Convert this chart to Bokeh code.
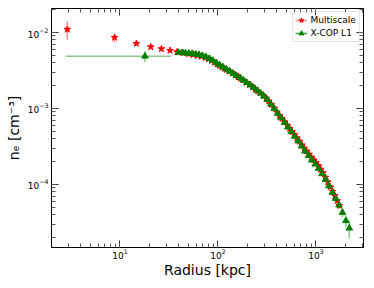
import math
from bokeh.plotting import figure
from bokeh.models import ColumnDataSource, LogAxis, LogTicker, Legend, LegendItem, Range1d, Label
from bokeh.embed import file_html
from bokeh.resources import INLINE

# ---- data: Multiscale (red stars) ----
ms_r = [2.9, 8.8, 14.7, 20.6, 26.5, 32.4, 38.3, 44.2, 50.1, 56, 62, 68, 74, 80, 86, 92, 98,
        104, 110, 116, 122, 130, 140, 150, 160, 170, 180, 195, 210, 225, 240, 255, 270, 290,
        310, 330, 350, 375, 400, 425, 450, 480, 510, 540, 570, 600, 640, 680, 720, 760, 800,
        850, 900, 950, 1000, 1060, 1120, 1180, 1250, 1320, 1400, 1480, 1560, 1650, 1740]
ms_ne = [1.10e-2, 8.59e-3, 7.17e-3, 6.47e-3, 6.09e-3, 5.80e-3, 5.55e-3, 5.39e-3, 5.24e-3,
         5.10e-3, 4.98e-3, 4.83e-3, 4.66e-3, 4.47e-3, 4.26e-3, 4.04e-3, 3.84e-3,
         3.66e-3, 3.50e-3, 3.37e-3, 3.24e-3, 3.09e-3, 2.91e-3, 2.76e-3, 2.61e-3, 2.48e-3,
         2.36e-3, 2.19e-3, 2.05e-3, 1.92e-3, 1.80e-3, 1.69e-3, 1.60e-3, 1.48e-3,
         1.36e-3, 1.25e-3, 1.13e-3, 1.01e-3, 8.95e-4, 8.10e-4, 7.40e-4, 6.65e-4, 6.00e-4,
         5.45e-4, 4.95e-4, 4.55e-4, 4.10e-4, 3.70e-4, 3.30e-4, 3.00e-4, 2.75e-4,
         2.50e-4, 2.28e-4, 2.10e-4, 1.94e-4, 1.76e-4, 1.58e-4, 1.42e-4, 1.24e-4, 1.08e-4,
         9.3e-5, 8.1e-5, 7.1e-5, 6.1e-5, 5.3e-5]
ms_err = [3.0e-3, 1.2e-3, 4.0e-4, 2.5e-4, 2.0e-4, 1.6e-4, 1.4e-4, 1.2e-4, 1.1e-4,
          1.0e-4, 9e-5, 9e-5, 8e-5, 8e-5, 7e-5, 7e-5, 6e-5,
          6e-5, 5e-5, 5e-5, 5e-5, 4e-5, 4e-5, 4e-5, 4e-5, 3e-5,
          3e-5, 3e-5, 3e-5, 3e-5, 2e-5, 2e-5, 2e-5, 2e-5,
          2e-5, 2e-5, 2e-5, 2e-5, 1.5e-5, 1.5e-5, 1.5e-5, 1.2e-5, 1.2e-5,
          1.0e-5, 1.0e-5, 1.0e-5, 9e-6, 8e-6, 7e-6, 7e-6, 6e-6,
          6e-6, 5e-6, 5e-6, 5e-6, 5e-6, 5e-6, 4e-6, 4e-6, 4e-6,
          4e-6, 4e-6, 4e-6, 4e-6, 4e-6]

# ---- data: X-COP L1 (green triangles) ----
xc_r = [18.0, 39.6, 42.9, 46.6, 50.5, 54.6, 59.2, 64.1, 69.5, 75.3, 81.7, 88.5, 95.7,
        103.8, 112.5, 121.9, 132.1, 143.2, 155.2, 167.9, 182.0, 197.2, 213.8, 231.7,
        251.2, 272.3, 294.4, 319.2, 345.9, 375.0, 406.4, 440.6, 477.5, 517.6, 559.8,
        606.7, 657.7, 712.9, 772.7, 837.5, 905.7, 981.7, 1064, 1153, 1250, 1355, 1469,
        1589, 1722, 1866, 2023, 2193]
xc_ne = [4.87e-3, 5.46e-3, 5.41e-3, 5.37e-3, 5.33e-3, 5.28e-3, 5.19e-3, 5.11e-3, 4.95e-3,
         4.79e-3, 4.55e-3, 4.29e-3, 4.00e-3, 3.74e-3, 3.51e-3, 3.29e-3, 3.09e-3, 2.89e-3,
         2.70e-3, 2.54e-3, 2.36e-3, 2.19e-3, 2.04e-3, 1.88e-3, 1.73e-3, 1.59e-3, 1.45e-3,
         1.31e-3, 1.14e-3, 9.95e-4, 8.60e-4, 7.52e-4, 6.56e-4, 5.68e-4, 4.94e-4, 4.30e-4,
         3.73e-4, 3.19e-4, 2.74e-4, 2.39e-4, 2.09e-4, 1.85e-4, 1.62e-4, 1.38e-4, 1.16e-4,
         9.54e-5, 7.85e-5, 6.55e-5, 5.35e-5, 4.27e-5, 3.33e-5, 2.66e-5]
xc_err = [8e-4, 2.0e-4, 1.5e-4, 1.3e-4, 1.2e-4, 1.1e-4, 1.0e-4, 9e-5, 8e-5, 8e-5, 7e-5,
          7e-5, 6e-5, 6e-5, 5e-5, 5e-5, 5e-5, 4e-5, 4e-5, 4e-5, 3e-5, 3e-5, 3e-5, 3e-5,
          3e-5, 3e-5, 3e-5, 3e-5, 3e-5, 2.5e-5, 2.5e-5, 2e-5, 2e-5, 2e-5, 1.5e-5, 1.5e-5,
          1.5e-5, 1.2e-5, 1.2e-5, 1.0e-5, 1.0e-5, 9e-6, 8e-6, 8e-6, 7e-6, 7e-6, 6e-6,
          6e-6, 6e-6, 6e-6, 6e-6, 7e-6]
xc_rerr_first = 15.2

series_labels = ["Multiscale", "X-COP L1"]

p = figure(width=367, height=283, x_axis_type="log", y_axis_type="log",
           x_range=Range1d(2.0, 3060), y_range=Range1d(1.48e-5, 0.0207),
           output_backend="svg", toolbar_location=None,
           min_border_left=51, min_border_right=4, min_border_top=8, min_border_bottom=36)
p.xgrid.visible = False
p.ygrid.visible = False
p.outline_line_color = "black"
p.outline_line_width = 1


def style(ax, labels=True):
    ax.ticker = LogTicker(num_minor_ticks=10)
    ax.major_tick_in = 7
    ax.major_tick_out = 0
    ax.minor_tick_in = 4
    ax.minor_tick_out = 0
    ax.axis_line_color = "black"
    ax.major_tick_line_color = "#333333"
    ax.minor_tick_line_color = "#555555"
    ax.major_label_text_font = "DejaVu Sans"
    ax.major_label_text_color = "black"
    if labels:
        ax.major_label_text_font_size = "9px"
        ax.major_label_standoff = 3
    else:
        ax.major_label_text_font_size = "1px"
        ax.major_label_text_alpha = 0
        ax.major_label_standoff = 0


style(p.xaxis[0])
style(p.yaxis[0])
p.xaxis[0].major_label_standoff = 1
p.xaxis[0].axis_label = "Radius [kpc]"
p.yaxis[0].axis_label = "nₑ [cm⁻³]"
for ax in (p.xaxis[0], p.yaxis[0]):
    ax.axis_label_text_font = "DejaVu Sans"
    ax.axis_label_text_font_size = "14px"
    ax.axis_label_text_font_style = "normal"
    ax.axis_label_text_color = "black"
p.xaxis[0].axis_label_standoff = 0
p.yaxis[0].axis_label_standoff = 3

top = LogAxis()
style(top, labels=False)
p.add_layout(top, "above")
right = LogAxis()
style(right, labels=False)
p.add_layout(right, "right")

ms_src = ColumnDataSource(dict(r=ms_r, ne=ms_ne,
                               lo=[v - e for v, e in zip(ms_ne, ms_err)],
                               hi=[v + e for v, e in zip(ms_ne, ms_err)]))
xc_src = ColumnDataSource(dict(r=xc_r, ne=xc_ne,
                               lo=[v - e for v, e in zip(xc_ne, xc_err)],
                               hi=[v + e for v, e in zip(xc_ne, xc_err)]))

p.segment(x0="r", y0="lo", x1="r", y1="hi", source=ms_src,
          line_color="red", line_alpha=0.45, line_width=1.5)
ms_pts = p.scatter("r", "ne", source=ms_src, marker="star", size=7,
                   fill_color="red", line_color="red")

p.segment(x0=[xc_r[0] - xc_rerr_first], y0=[xc_ne[0]], x1=[xc_r[0] + xc_rerr_first], y1=[xc_ne[0]],
          line_color="green", line_alpha=0.45, line_width=1.5)
p.segment(x0="r", y0="lo", x1="r", y1="hi", source=xc_src,
          line_color="green", line_alpha=0.45, line_width=1.5)
xc_pts = p.scatter("r", "ne", source=xc_src, marker="triangle", size=6.5,
                   fill_color="green", line_color="green")

# legend-only glyphs placed outside the visible ranges
ms_vbar = p.vspan(x=[1.0], line_color="red", line_alpha=0.45, line_width=1.5)
xc_vbar = p.vspan(x=[1.0], line_color="green", line_alpha=0.45, line_width=1.5)
xc_hbar = p.hspan(y=[1.0], line_color="green", line_alpha=0.45, line_width=1.5)

# legend box with glyphs; its texts are placed as labels (frame-relative screen units)
legend = Legend(items=[LegendItem(label=" ", renderers=[ms_vbar, ms_pts]),
                       LegendItem(label=" ", renderers=[xc_vbar, xc_hbar, xc_pts])],
                location="top_right", margin=3, padding=2, spacing=1,
                glyph_width=12, glyph_height=12, label_height=12, label_width=50,
                label_standoff=0,
                label_text_font="DejaVu Sans", label_text_font_size="9px",
                border_line_color="#cccccc", border_line_width=1,
                background_fill_alpha=0)
p.add_layout(legend)

for txt, yy in zip(series_labels, [227.3, 214.3]):
    p.add_layout(Label(x=259, y=yy, x_units="screen", y_units="screen", text=txt,
                       text_font="DejaVu Sans", text_font_size="9px", level="overlay",
                       text_baseline="middle", text_align="left", text_color="black"))

open("out.html", "w").write(file_html(p, INLINE))
